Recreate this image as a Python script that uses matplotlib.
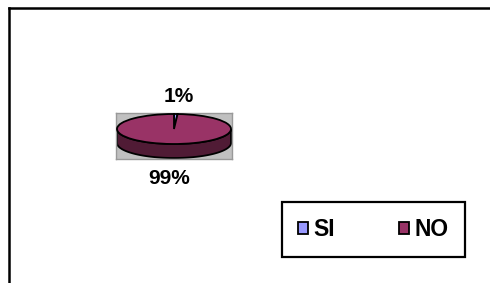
import numpy as np
import matplotlib
matplotlib.use('Agg')
import matplotlib.pyplot as plt
from matplotlib.patches import Patch, Polygon
from matplotlib.lines import Line2D
from matplotlib.colors import to_rgb

plt.rcParams['font.family'] = ['Liberation Sans', 'DejaVu Sans']

# data
labels = ['SI', 'NO']
values = [1, 99]
colors = ['#9999FF', '#993366']

W, H = 490, 283
fig = plt.figure(figsize=(W / 100, H / 100), dpi=100)

# outer chart frame (only top and left edges visible)
fig.add_artist(Line2D([9 / W, 1], [1 - 7.5 / H, 1 - 7.5 / H], color='black', lw=1.8))
fig.add_artist(Line2D([9 / W, 9 / W], [0, 1 - 7.5 / H], color='black', lw=1.8))

# grey plot area holding the flat 3D pie
x0, x1, y0, y1 = 116, 232, 113, 159
ax = fig.add_axes([x0 / W, 1 - y1 / H, (x1 - x0) / W, (y1 - y0) / H])
wedges, _ = ax.pie(values, colors=colors, startangle=90, counterclock=False,
                   frame=True,
                   wedgeprops=dict(edgecolor='black', linewidth=1.3, zorder=3))
ax.set_aspect('auto')
ax.set_facecolor('#C0C0C0')
for s in ax.spines.values():
    s.set_color('#999999')
    s.set_linewidth(1.0)
ax.set_xticks([])
ax.set_yticks([])

rx_px, ry_px = 57.0, 15.0
depth = 14 / ry_px
ax.set_xlim(-(x1 - x0) / 2 / rx_px, (x1 - x0) / 2 / rx_px)
top = 1 + 1 / ry_px
ax.set_ylim(top - (y1 - y0) / ry_px, top)

# side walls of the pie (front half only)
for w, c in zip(wedges, colors):
    t = np.radians(np.linspace(w.theta1, w.theta2, 400))
    t = t[np.sin(t) <= 0]
    if len(t) < 2:
        continue
    upper = np.column_stack([np.cos(t), np.sin(t)])
    lower = np.column_stack([np.cos(t[::-1]), np.sin(t[::-1]) - depth])
    dark = tuple(v * 0.52 for v in to_rgb(c))
    ax.add_patch(Polygon(np.vstack([upper, lower]), closed=True, facecolor=dark,
                         edgecolor='black', linewidth=1.3, zorder=2))

# percentage labels
fig.text(179 / W, 1 - 96 / H, f'{values[0]}%', ha='center', va='center',
         fontsize=15, fontweight='bold')
fig.text(169 / W, 1 - 179 / H, f'{values[1]}%', ha='center', va='center',
         fontsize=15, fontweight='bold')

# legend, stretched over its box
handles = [Patch(facecolor=c, edgecolor='black', linewidth=1.3) for c in colors]
leg = fig.legend(handles, labels, loc='center', ncol=2, mode='expand',
                 bbox_to_anchor=(282 / W, 1 - 257 / H, 183 / W, 55 / H),
                 borderaxespad=0,
                 prop=dict(size=16.5, weight='bold'),
                 frameon=True, fancybox=False, edgecolor='black', framealpha=1,
                 handlelength=0.44, handleheight=0.44, handletextpad=0.25,
                 borderpad=0.7)
leg.get_frame().set_linewidth(1.6)

fig.savefig('out.png', dpi=100)
